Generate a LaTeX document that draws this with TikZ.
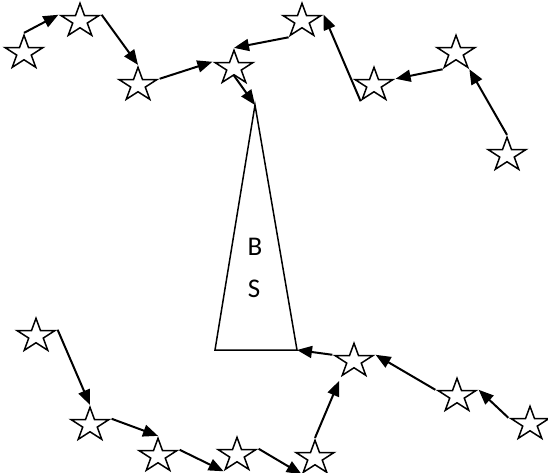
\documentclass[tikz,border=0pt]{standalone}
\usepackage{fontspec}
\setmainfont{Carlito}
\usetikzlibrary{shapes.geometric,arrows.meta}
\begin{document}
\begin{tikzpicture}[
    x=1pt, y=-1pt,
    % Réglages des étoiles et des flèches
    etoile/.style={star, star points=5, star point ratio=2.618, draw,
        line width=1.5pt, minimum size=35.4pt, inner sep=0pt, xscale=1.13},
    fleche/.style={line width=2pt, -{Triangle[length=15pt,width=12pt]}}
]
\useasboundingbox (0,0) rectangle (548,473);
% Station de base
\coordinate (sommet) at (255,105);
\coordinate (bg) at (215,350);
\coordinate (bd) at (297,350);
\draw[line width=1.5pt] (sommet) -- (bd) -- (bg) -- cycle;
\node (b) at (255,247) {\fontsize{27}{27}\selectfont B};
\node (s) at (254,289) {\fontsize{27}{27}\selectfont S};
% Etoiles du haut
\node[etoile] (h1) at (24,53) {};
\node[etoile] (h2) at (80,21) {};
\node[etoile] (h3) at (138,85) {};
\node[etoile] (h4) at (234,68) {};
\node[etoile] (h5) at (302,21) {};
\node[etoile] (h6) at (374,85) {};
\node[etoile] (h7) at (456,53) {};
\node[etoile] (h8) at (507,155) {};
% Etoiles du bas
\node[etoile] (b1) at (36,336) {};
\node[etoile] (b2) at (90,425) {};
\node[etoile] (b3) at (158,456) {};
\node[etoile] (b4) at (237,455) {};
\node[etoile] (b5) at (315,458) {};
\node[etoile] (b6) at (354,361) {};
\node[etoile] (b7) at (457,396) {};
\node[etoile] (b8) at (530,424) {};
% Chemins du haut
\draw[fleche] (h1.outer point 1) -- (h2.outer point 2);
\draw[fleche] (h2.outer point 5) -- (h3.outer point 1);
\draw[fleche] (h3.outer point 5) -- (h4.outer point 2);
\draw[fleche] (h4.south) -- (sommet);
\draw[fleche] (h5.outer point 3) -- (h4.outer point 1);
\draw[fleche] (h6.outer point 3) -- (h5.outer point 5);
\draw[fleche] (h7.outer point 3) -- (h6.outer point 5);
\draw[fleche] (h8.outer point 1) -- (h7.outer point 4);
% Chemins du bas
\draw[fleche] (b1.outer point 5) -- (b2.outer point 1);
\draw[fleche] (b2.outer point 5) -- (b3.outer point 1);
\draw[fleche] (b3.outer point 5) -- (b4.outer point 3);
\draw[fleche] (b4.outer point 5) -- (b5.outer point 3);
\draw[fleche, shorten >=4pt] (b5.outer point 1) -- (b6.outer point 3);
\draw[fleche] (b6.outer point 2) -- (bd);
\draw[fleche] (b7.outer point 2) -- (b6.outer point 5);
\draw[fleche] (b8.outer point 2) -- (b7.outer point 5);
\end{tikzpicture}
\end{document}
